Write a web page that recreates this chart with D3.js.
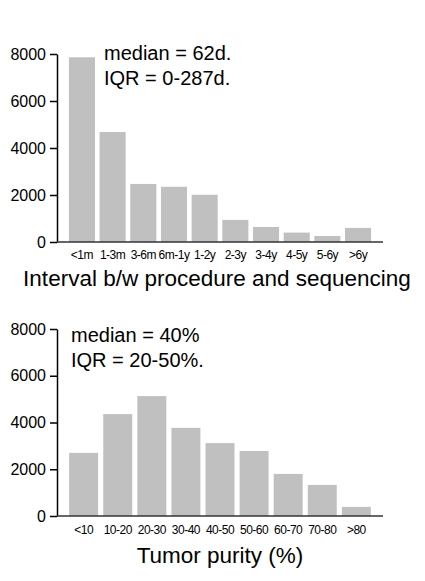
<!DOCTYPE html>
<html>
<head>
<meta charset="utf-8">
<script src="https://cdn.jsdelivr.net/npm/d3@7"></script>
<style>
  body { margin: 0; background: #fff; }
  svg { font-family: "Liberation Sans", Arial, sans-serif; }
</style>
</head>
<body>
<svg id="chart" width="425" height="581"></svg>
<script>
// Interval between procedure and sequencing
var intervalCats = ["<1m", "1-3m", "3-6m", "6m-1y", "1-2y", "2-3y", "3-4y", "4-5y", "5-6y", ">6y"];
var intervalCounts = [7860, 4680, 2470, 2350, 2010, 940, 640, 400, 255, 600];
var intervalNotes = ["median = 62d.", "IQR = 0-287d."];

// Tumor purity
var purityCats = ["<10", "10-20", "20-30", "30-40", "40-50", "50-60", "60-70", "70-80", ">80"];
var purityCounts = [2700, 4360, 5130, 3770, 3120, 2780, 1800, 1330, 390];
var purityNotes = ["median = 40%", "IQR = 20-50%."];

var yTicks = [0, 2000, 4000, 6000, 8000];

var svg = d3.select("#chart");

function drawPanel(opts) {
  var g = svg.append("g");

  var x = d3.scaleBand()
    .domain(opts.cats)
    .range([66.6, 373.4])
    .paddingInner(0.15)
    .paddingOuter(0.075);

  var y = d3.scaleLinear()
    .domain([0, 8000])
    .range([opts.bottom, opts.top]);

  // bars
  g.selectAll("rect.bar")
    .data(opts.values)
    .enter()
    .append("rect")
    .attr("class", "bar")
    .attr("x", (d, i) => x(opts.cats[i]))
    .attr("width", x.bandwidth())
    .attr("y", d => y(d))
    .attr("height", d => y(0) - y(d))
    .attr("fill", "#c0c0c0");

  // y axis
  var yAxis = g.append("g")
    .attr("transform", "translate(57,0)")
    .call(d3.axisLeft(y).tickValues(yTicks).tickFormat(d3.format("d"))
      .tickSize(7).tickPadding(4).tickSizeOuter(0));
  yAxis.select(".domain").attr("stroke", "#000").attr("stroke-width", 1.5);
  yAxis.selectAll(".tick line").attr("stroke", "#000").attr("stroke-width", 1.5);
  yAxis.selectAll(".tick text").attr("font-size", 16).attr("fill", "#000")
    .attr("font-family", "Liberation Sans, Arial, sans-serif");

  // x axis
  var xAxis = g.append("g")
    .attr("transform", "translate(0," + opts.bottom + ")")
    .call(d3.axisBottom(x).tickSize(0).tickPadding(opts.tickPad));
  xAxis.select(".domain").remove();
  xAxis.selectAll(".tick text").attr("font-size", 12).attr("fill", "#000")
    .attr("letter-spacing", "-0.5px")
    .attr("font-family", "Liberation Sans, Arial, sans-serif");

  g.append("line")
    .attr("x1", 57).attr("x2", 383)
    .attr("y1", y(0)).attr("y2", y(0))
    .attr("stroke", "#333")
    .attr("stroke-width", 1.5);

  // annotations
  g.selectAll("text.note")
    .data(opts.notes)
    .enter()
    .append("text")
    .attr("class", "note")
    .attr("x", opts.noteX)
    .attr("y", (d, i) => opts.noteY + i * 25)
    .attr("font-size", 20)
    .attr("fill", "#000")
    .text(d => d);

  // axis title
  g.append("text")
    .attr("x", opts.titleX)
    .attr("y", opts.titleY)
    .attr("text-anchor", "middle")
    .attr("font-size", 22.5)
    .attr("fill", "#000")
    .text(opts.title);
}

drawPanel({
  cats: intervalCats, values: intervalCounts, notes: intervalNotes,
  top: 54, bottom: 242, tickPad: 8,
  noteX: 104, noteY: 60,
  title: "Interval b/w procedure and sequencing", titleX: 217, titleY: 286
});

drawPanel({
  cats: purityCats, values: purityCounts, notes: purityNotes,
  top: 329, bottom: 516, tickPad: 9,
  noteX: 71, noteY: 342,
  title: "Tumor purity (%)", titleX: 220, titleY: 563
});
</script>
</body>
</html>
